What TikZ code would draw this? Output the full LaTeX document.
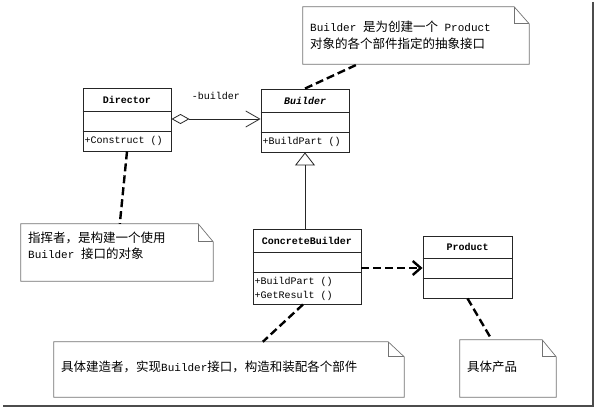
\documentclass[tikz,border=0pt]{standalone}
\usepackage{fontspec}
\newfontfamily\cjk{Noto Sans CJK SC}
\newfontfamily\lmono{Liberation Mono}
\usetikzlibrary{arrows.meta,calc}
\newcommand\zh[1]{{\cjk\fontsize{12.5}{15}\selectfont #1}}
\newcommand\nlat[1]{{\lmono\fontsize{11}{13}\selectfont #1}}
\newcommand\drawnote[3]{%
  \draw[noteline] (#1.south west) -- (#1.north west) -- ($(#1.north east)+(-#2,0)$) -- ($(#1.north east)+(0,#3)$) -- (#1.south east) -- cycle;
  \draw[noteline, fill=none] ($(#1.north east)+(-#2,0)$) -- ($(#1.north east)+(-#2,#3)$) -- ($(#1.north east)+(0,#3)$);}
\begin{document}
\begin{tikzpicture}[x=1pt,y=-1pt,
  classbox/.style={draw=black!85, line width=0.9pt, inner sep=0pt, fill=white},
  divider/.style={draw=black!85, line width=0.9pt},
  cname/.style={font=\lmono\bfseries\fontsize{10}{12}\selectfont, inner sep=0pt},
  cnameit/.style={font=\lmono\bfseries\itshape\fontsize{10}{12}\selectfont, inner sep=0pt},
  cop/.style={font=\lmono\fontsize{10}{12}\selectfont, inner sep=0pt, anchor=west},
  notebox/.style={inner sep=0pt},
  noteline/.style={draw=black!55, line width=0.7pt, fill=white},
  notetext/.style={inner sep=0pt, anchor=west},
  link/.style={draw=black, line width=2.4pt, dash pattern=on 8pt off 4pt},
  assoc/.style={draw=black!85, line width=0.8pt},
  frameline/.style={draw=black!70, line width=2pt}
]
\useasboundingbox (0,0) rectangle (596,409);
\fill[white] (0,0) rectangle (596,409);
% frame
\draw[frameline] (593,2) -- (593,405.5) -- (3,405.5);

% notes
\node[notebox, minimum width=226pt, minimum height=57pt] (note1) at (416,35.5) {};
\drawnote{note1}{15}{17}
\node[notetext] (note1a) at (310,26.5) {\nlat{Builder }\zh{是为创建一个}\nlat{ Product}};
\node[notetext] (note1b) at (310,43.5) {\zh{对象的各个部件指定的抽象接口}};

\node[notebox, minimum width=192pt, minimum height=57pt] (note2) at (117,252.5) {};
\drawnote{note2}{15}{18}
\node[notetext] (note2a) at (28,237.5) {\zh{指挥者，是构建一个使用}};
\node[notetext] (note2b) at (28,253.5) {\nlat{Builder }\zh{接口的对象}};

\node[notebox, minimum width=350pt, minimum height=55pt] (note3) at (229,369.5) {};
\drawnote{note3}{16}{15}
\node[notetext] (note3a) at (61,367) {\zh{具体建造者，实现}\nlat{Builder}\zh{接口，构造和装配各个部件}};

\node[notebox, minimum width=96pt, minimum height=57pt] (note4) at (508,368.5) {};
\drawnote{note4}{14}{17}
\node[notetext] (note4a) at (467,367) {\zh{具体产品}};

% Director
\node[classbox, minimum width=88pt, minimum height=63pt] (director) at (127,119.5) {};
\draw[divider] (director.west |- 0,111) -- (director.east |- 0,111);
\draw[divider] (director.west |- 0,131) -- (director.east |- 0,131);
\node[cname] (directorname) at (127,99.5) {Director};
\node[cop] (directorop) at (84.5,141) {+Construct ()};

% Builder
\node[classbox, minimum width=88pt, minimum height=63pt] (builder) at (305,120.5) {};
\draw[divider] (builder.west |- 0,112) -- (builder.east |- 0,112);
\draw[divider] (builder.west |- 0,132) -- (builder.east |- 0,132);
\node[cnameit] (buildername) at (305,100.5) {Builder};
\node[cop] (builderop) at (262.5,142) {+BuildPart ()};

% ConcreteBuilder
\node[classbox, minimum width=108pt, minimum height=75pt] (cb) at (307,266.5) {};
\draw[divider] (cb.west |- 0,252) -- (cb.east |- 0,252);
\draw[divider] (cb.west |- 0,272) -- (cb.east |- 0,272);
\node[cname] (cbname) at (307,240.5) {ConcreteBuilder};
\node[cop] (cbop1) at (254.5,281.5) {+BuildPart ()};
\node[cop] (cbop2) at (254.5,295.5) {+GetResult ()};

% Product
\node[classbox, minimum width=89pt, minimum height=62pt] (product) at (467.5,267) {};
\draw[divider] (product.west |- 0,258) -- (product.east |- 0,258);
\draw[divider] (product.west |- 0,278) -- (product.east |- 0,278);
\node[cname] (productname) at (467.5,247) {Product};

% aggregation
\draw[assoc, {Diamond[open,length=18pt,width=10pt]}-{Straight Barb[length=14pt,width=16pt]}]
  (director.east |- 0,119) -- (builder.west |- 0,119);
\node[cop, font=\lmono\fontsize{10}{12}\selectfont, anchor=center] (rolelabel) at (216,96) {-builder};

% generalization
\draw[assoc, -{Triangle[open,length=13pt,width=20pt]}] (cb.north -| builder.south) -- (builder.south);

% dependency
\draw[link, -{Straight Barb[length=8pt,width=14pt]}] (cb.east |- 0,268) -- (product.west |- 0,268);

% note links
\draw[link] (director.south) -- ($(note2.north west)+(99,0)$);
\draw[link] (builder.north) -- ($(note1.south west)+(55,0)$);
\draw[link] ($(cb.south)+(-4,0)$) -- ($(note3.north west)+(209,0)$);
\draw[link] (product.south) -- ($(note4.north west)+(32,0)$);
\end{tikzpicture}
\end{document}
